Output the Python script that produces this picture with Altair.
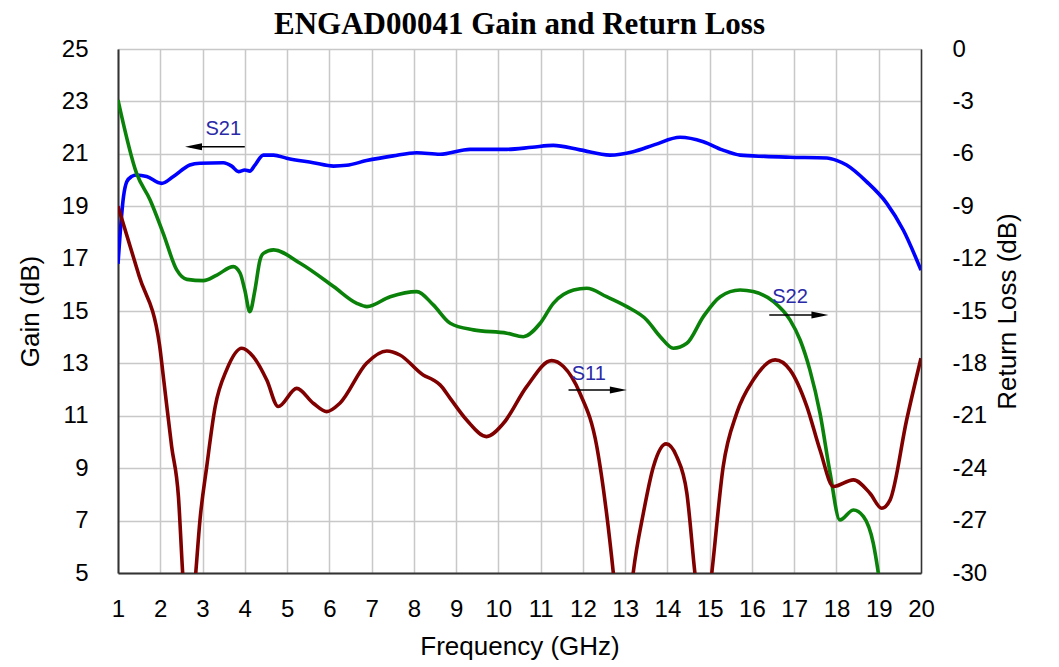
import altair as alt
import pandas as pd

# ---------------- data ----------------
s21_freq = [1.0, 1.13, 1.21, 1.32, 1.44, 1.68, 2.03, 2.31, 2.70, 2.94, 3.49, 3.69, 3.85, 4.0, 4.12, 4.24,
            4.44, 4.68, 4.99, 5.62, 6.10, 6.41, 6.88, 7.51, 8.07, 8.62, 9.33, 10.20, 10.8, 11.30, 11.93,
            12.64, 13.19, 13.7, 14.30, 14.85, 15.3, 15.72, 16.3, 16.90, 17.77, 18.0, 18.24, 18.71, 19.19,
            19.58, 20.0]
s21_gain = [16.8, 19.36, 19.94, 20.13, 20.19, 20.13, 19.87, 20.13, 20.57, 20.64, 20.66, 20.53, 20.32, 20.38,
            20.34, 20.57, 20.95, 20.95, 20.83, 20.66, 20.53, 20.56, 20.74, 20.92, 21.04, 20.98, 21.17, 21.17,
            21.25, 21.32, 21.15, 20.95, 21.08, 21.35, 21.63, 21.46, 21.15, 20.95, 20.9, 20.87, 20.84, 20.75,
            20.57, 19.94, 19.11, 18.09, 16.56]

s22_freq = [1.0, 1.44, 1.76, 2.07, 2.39, 2.63, 3.02, 3.34, 3.73, 3.89, 4.0, 4.12, 4.24, 4.36, 4.44, 4.68,
            5.31, 6.10, 6.65, 6.89, 7.44, 8.07, 8.46, 8.86, 9.41, 10.20, 10.59, 10.99, 11.30, 11.78, 12.09,
            12.56, 13.04, 13.51, 13.83, 14.14, 14.46, 14.85, 15.25, 15.72, 16.03, 16.51, 16.90, 17.14, 17.37,
            17.61, 17.85, 18.08, 18.40, 18.64, 18.87, 18.99, 19.1]
s22_rl = [-2.92, -7.12, -8.64, -10.55, -12.65, -13.19, -13.26, -12.94, -12.46, -12.84, -13.8, -15.04, -13.8,
          -12.08, -11.7, -11.5, -12.27, -13.6, -14.56, -14.75, -14.18, -13.89, -14.65, -15.7, -16.08, -16.27,
          -16.47, -15.7, -14.56, -13.8, -13.7, -14.18, -14.75, -15.51, -16.47, -17.13, -16.85, -15.32, -14.18,
          -13.8, -13.89, -14.46, -15.51, -16.66, -18.37, -20.85, -24.29, -26.96, -26.39, -26.77, -28.29, -30.0,
          -32.0]

s11_freq = [1.0, 1.5, 1.98, 2.07, 2.27, 2.43, 2.53, 2.68, 2.84, 2.94, 3.10, 3.30, 3.57, 3.93, 4.20,
            4.52, 4.79, 5.23, 5.62, 5.94, 6.25, 6.88, 7.36, 7.67, 8.22, 8.46, 8.62, 8.86, 9.25, 9.72, 10.12,
            10.67, 11.26, 11.54, 11.93, 12.33, 12.56, 12.72, 12.95, 13.19, 13.43, 13.67, 13.97, 14.22, 14.46,
            14.65, 14.85, 15.05, 15.32, 15.64, 16.03, 16.55, 16.90, 17.30, 17.61, 17.93, 18.40, 18.79, 19.07,
            19.27, 19.66, 20.0]
s11_rl = [-9.0, -13.0, -16.9, -18.7, -22.77, -25.63, -30.0, -35.0, -30.0, -26.96, -23.9, -20.47,
          -18.37, -17.13, -17.61, -18.95, -20.47, -19.43, -20.28, -20.76, -20.28, -17.99, -17.29, -17.52,
          -18.66, -18.95, -19.23, -20.0, -21.24, -22.19, -21.43, -19.33, -17.84, -18.18, -19.71, -22.77,
          -26.58, -30.0, -36.0, -30.0, -26.58, -23.9, -22.61, -23.34, -25.43, -30.0, -34.0, -30.0, -23.9,
          -20.85, -18.95, -17.8, -18.37, -20.47, -22.96, -25.05, -24.67, -25.43, -26.29, -25.81, -21.24, -17.7]

freq_ticks = list(range(1, 21))
gain_ticks = list(range(5, 26, 2))
rl_ticks = list(range(-30, 1, 3))

# annotation labels
ann_labels = ["S21", "S11", "S22"]

# ---------------- tables ----------------
df21 = pd.DataFrame({"freq": s21_freq, "val": s21_gain})
df22 = pd.DataFrame({"freq": s22_freq, "val": s22_rl})
df11 = pd.DataFrame({"freq": s11_freq, "val": s11_rl})

FONT = "Liberation Sans"
x_scale = alt.Scale(domain=[1, 20], nice=False, zero=False)
g_scale = alt.Scale(domain=[5, 25], nice=False, zero=False)
r_scale = alt.Scale(domain=[-30, 0], nice=False, zero=False)

x_axis = alt.Axis(title="Frequency (GHz)", values=freq_ticks, grid=True, gridColor="#c8c8c8",
                  gridWidth=1.5, ticks=False, labelPadding=24, titlePadding=12, labelFontSize=24,
                  titleFontSize=26, labelFont=FONT, titleFont=FONT, titleFontWeight="normal",
                  labelColor="black", titleColor="black", domainColor="#333333", domainWidth=2,
                  labelFlush=False, orient="bottom")
g_axis = alt.Axis(title="Gain (dB)", values=gain_ticks, grid=True, gridColor="#c8c8c8", gridWidth=1.5,
                  ticks=False, labelPadding=30, titlePadding=18, labelFontSize=24, titleFontSize=26,
                  labelFont=FONT, titleFont=FONT, titleFontWeight="normal", labelColor="black",
                  titleColor="black", domainColor="#333333", domainWidth=2, orient="left")
r_axis = alt.Axis(title="Return Loss (dB)", values=rl_ticks, grid=False, ticks=False, labelPadding=31,
                  titlePadding=34, labelFontSize=24, titleFontSize=26, labelFont=FONT, titleFont=FONT,
                  titleFontWeight="normal", labelColor="black", titleColor="black", domainColor="#333333",
                  domainWidth=1.5, orient="right", titleAngle=270, labelAlign="left",
                  labelExpr="toString(datum.value)")

LW = 3.6


def xe(field):
    return alt.X(field, scale=x_scale, axis=x_axis)


def ge(field):
    return alt.Y(field, scale=g_scale, axis=g_axis)


def re_(field):
    return alt.Y(field, scale=r_scale, axis=r_axis)


s21_line = alt.Chart(df21).mark_line(color="#0000ff", strokeWidth=LW, interpolate="monotone", clip=True).encode(
    x=xe("freq:Q"), y=ge("val:Q"))
s22_line = alt.Chart(df22).mark_line(color="#0a820a", strokeWidth=LW, interpolate="monotone", clip=True).encode(
    x=xe("freq:Q"), y=re_("val:Q"))
s11_line = alt.Chart(df11).mark_line(color="#800000", strokeWidth=LW, interpolate="monotone", clip=True).encode(
    x=xe("freq:Q"), y=re_("val:Q"))

TXT = "#2a2aa8"
LEFT_HEAD = "M0,0L2,-0.42L2,0.42Z"
RIGHT_HEAD = "M0,0L-2,-0.42L-2,0.42Z"

# S21 annotation (gain axis)
a21_txt = pd.DataFrame({"freq": [3.49], "val": [21.93], "t": [ann_labels[0]]})
a21_arrow = pd.DataFrame({"freq": [4.0], "f2": [2.7], "val": [21.27]})
a21_head = pd.DataFrame({"freq": [2.585], "val": [21.27]})

s21_text = alt.Chart(a21_txt).mark_text(font=FONT, fontSize=20, color=TXT, align="center", baseline="middle").encode(
    x=xe("freq:Q"), y=ge("val:Q"), text="t:N")
s21_rule = alt.Chart(a21_arrow).mark_rule(color="black", strokeWidth=1.5).encode(
    x=xe("freq:Q"), x2="f2:Q", y=ge("val:Q"))
s21_head = alt.Chart(a21_head).mark_point(shape=LEFT_HEAD, size=289, filled=True, color="black", opacity=1).encode(
    x=xe("freq:Q"), y=ge("val:Q"))

# S11 / S22 annotations (return-loss axis)
arl_txt = pd.DataFrame({"freq": [12.14, 16.90], "val": [-18.6, -14.22], "t": [ann_labels[1], ann_labels[2]]})
arl_arrow = pd.DataFrame({"freq": [11.66, 16.41], "f2": [12.9, 17.7], "val": [-19.52, -15.23]})
arl_head = pd.DataFrame({"freq": [13.04, 17.81], "val": [-19.52, -15.23]})

rl_text = alt.Chart(arl_txt).mark_text(font=FONT, fontSize=20, color=TXT, align="center", baseline="middle").encode(
    x=xe("freq:Q"), y=re_("val:Q"), text="t:N")
rl_rule = alt.Chart(arl_arrow).mark_rule(color="black", strokeWidth=1.5).encode(
    x=xe("freq:Q"), x2="f2:Q", y=re_("val:Q"))
rl_head = alt.Chart(arl_head).mark_point(shape=RIGHT_HEAD, size=289, filled=True, color="black", opacity=1).encode(
    x=xe("freq:Q"), y=re_("val:Q"))

gain_layer = alt.layer(s21_line, s21_text, s21_rule, s21_head)
rl_layer = alt.layer(s22_line, s11_line, rl_text, rl_rule, rl_head)

chart = alt.layer(gain_layer, rl_layer).resolve_scale(y="independent").properties(
    width=803, height=524,
    title=alt.TitleParams("ENGAD00041 Gain and Return Loss", font="Liberation Serif", fontSize=31,
                          fontWeight="bold", color="black", anchor="middle", offset=-4),
    autosize=alt.AutoSizeParams(type="none"),
    padding={"left": 110, "top": 41, "right": 130, "bottom": 92},
).configure_view(stroke="#333333", strokeWidth=1.5).configure(background="white")

chart.save("out.html", embed_options={"renderer": "svg", "actions": False})
